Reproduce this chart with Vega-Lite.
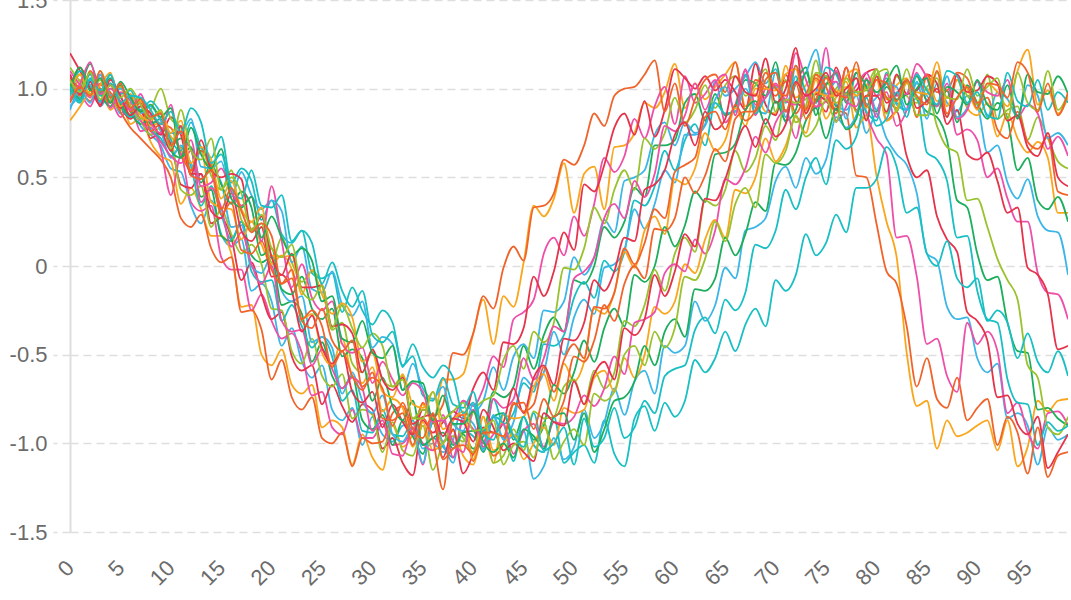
{
"$schema":"https://vega.github.io/schema/vega-lite/v6.json",
"width":998,"height":532,
"autosize":{"type":"none"},
"padding":{"left":70,"top":0,"right":3,"bottom":68},
"background":"white",
"config":{"view":{"stroke":null},"font":"Liberation Sans"},
"data":{"values":[
{"X":0,"a":1.02,"b":0.95,"c":1.08,"d":1.2,"e":0.93,"f":0.97,"g":1.0,"h":1.05,"i":0.9,"j":0.82,"k":1.1,"l":0.98,"m":1.03,"n":1.12,"o":0.96,"p":1.06,"q":0.88,"r":1.0,"s":0.94,"t":1.08,"u":0.99,"v":1.05,"w":1.01,"x":0.92},
{"X":1,"a":0.95,"b":1.05,"c":0.98,"d":1.1,"e":1.0,"f":1.08,"g":0.92,"h":1.0,"i":0.97,"j":0.9,"k":1.02,"l":1.12,"m":0.94,"n":1.04,"o":1.1,"p":0.96,"q":0.99,"r":1.08,"s":1.03,"t":0.97,"u":1.12,"v":0.98,"w":0.93,"x":1.01},
{"X":2,"a":1.04,"b":0.97,"c":0.9,"d":1.0,"e":1.14,"f":0.95,"g":1.06,"h":0.93,"i":1.08,"j":0.99,"k":0.95,"l":1.0,"m":1.09,"n":0.97,"o":1.02,"p":1.1,"q":0.92,"r":0.96,"s":1.15,"t":1.04,"u":0.99,"v":1.09,"w":1.05,"x":0.96},
{"X":3,"a":0.9,"b":1.0,"c":1.03,"d":0.93,"e":0.98,"f":1.1,"g":0.96,"h":1.02,"i":0.92,"j":1.06,"k":1.08,"l":0.91,"m":0.97,"n":1.05,"o":0.93,"p":1.0,"q":1.08,"r":1.02,"s":0.97,"t":0.9,"u":1.06,"v":0.94,"w":0.99,"x":1.1},
{"X":4,"a":0.97,"b":0.88,"c":0.95,"d":1.02,"e":0.9,"f":0.96,"g":1.08,"h":0.98,"i":1.0,"j":0.93,"k":0.89,"l":1.03,"m":1.06,"n":0.93,"o":1.03,"p":0.92,"q":0.96,"r":1.09,"s":1.0,"t":1.05,"u":0.92,"v":1.02,"w":1.08,"x":0.95},
{"X":5,"a":0.86,"b":0.93,"c":0.84,"d":0.9,"e":1.02,"f":0.88,"g":0.91,"h":0.87,"i":0.95,"j":1.0,"k":0.98,"l":0.89,"m":0.92,"n":1.01,"o":0.97,"p":1.03,"q":1.0,"r":0.9,"s":0.93,"t":0.96,"u":1.04,"v":0.95,"w":0.92,"x":1.03},
{"X":6,"a":0.92,"b":0.8,"c":0.9,"d":0.83,"e":0.87,"f":0.95,"g":0.84,"h":0.78,"i":0.88,"j":0.91,"k":0.93,"l":0.96,"m":0.85,"n":0.9,"o":0.99,"p":0.87,"q":0.94,"r":0.97,"s":0.88,"t":0.85,"u":0.95,"v":1.0,"w":0.96,"x":0.89},
{"X":7,"a":0.79,"b":0.84,"c":0.76,"d":0.88,"e":0.8,"f":0.82,"g":0.9,"h":0.72,"i":0.83,"j":0.93,"k":0.82,"l":0.87,"m":0.95,"n":0.83,"o":0.88,"p":0.92,"q":0.86,"r":0.85,"s":0.97,"t":0.9,"u":0.87,"v":0.91,"w":0.95,"x":0.94},
{"X":8,"a":0.74,"b":0.7,"c":0.78,"d":0.72,"e":0.83,"f":0.74,"g":0.77,"h":0.66,"i":0.85,"j":0.79,"k":0.76,"l":0.82,"m":0.8,"n":0.88,"o":0.93,"p":0.76,"q":0.9,"r":0.82,"s":0.81,"t":0.86,"u":0.91,"v":0.83,"w":0.88,"x":0.84},
{"X":9,"a":0.68,"b":0.62,"c":0.66,"d":0.75,"e":0.7,"f":0.78,"g":0.72,"h":0.6,"i":0.76,"j":0.81,"k":0.7,"l":0.74,"m":0.83,"n":1.0,"o":0.86,"p":0.8,"q":0.82,"r":0.87,"s":0.75,"t":0.78,"u":0.84,"v":0.88,"w":0.8,"x":0.86},
{"X":10,"a":0.55,"b":0.59,"c":0.4,"d":0.69,"e":0.68,"f":0.72,"g":0.62,"h":0.5,"i":0.61,"j":0.73,"k":0.62,"l":0.84,"m":0.65,"n":0.83,"o":0.71,"p":0.78,"q":0.75,"r":0.75,"s":0.91,"t":0.65,"u":0.89,"v":0.66,"w":0.87,"x":0.68},
{"X":11,"a":0.53,"b":0.35,"c":0.62,"d":0.46,"e":0.72,"f":0.43,"g":0.67,"h":0.27,"i":0.68,"j":0.66,"k":0.58,"l":0.74,"m":0.61,"n":0.78,"o":0.65,"p":0.63,"q":0.75,"r":0.82,"s":0.63,"t":0.79,"u":0.61,"v":0.88,"w":0.75,"x":0.76},
{"X":12,"a":0.34,"b":0.44,"c":0.36,"d":0.44,"e":0.66,"f":0.4,"g":0.56,"h":0.22,"i":0.58,"j":0.53,"k":0.65,"l":0.52,"m":0.67,"n":0.54,"o":0.81,"p":0.54,"q":0.83,"r":0.58,"s":0.71,"t":0.51,"u":0.78,"v":0.65,"w":0.89,"x":0.51},
{"X":13,"a":0.24,"b":0.32,"c":0.31,"d":0.52,"e":0.39,"f":0.45,"g":0.34,"h":0.29,"i":0.49,"j":0.65,"k":0.36,"l":0.52,"m":0.47,"n":0.67,"o":0.67,"p":0.65,"q":0.56,"r":0.67,"s":0.45,"t":0.71,"u":0.63,"v":0.6,"w":0.81,"x":0.49},
{"X":14,"a":0.37,"b":0.17,"c":0.34,"d":0.24,"e":0.43,"f":0.22,"g":0.45,"h":0.1,"i":0.54,"j":0.36,"k":0.44,"l":0.31,"m":0.57,"n":0.51,"o":0.61,"p":0.56,"q":0.55,"r":0.6,"s":0.47,"t":0.54,"u":0.55,"v":0.72,"w":0.58,"x":0.54},
{"X":15,"a":0.18,"b":0.17,"c":0.05,"d":0.27,"e":0.17,"f":0.32,"g":0.29,"h":0.02,"i":0.47,"j":0.33,"k":0.33,"l":0.27,"m":0.46,"n":0.43,"o":0.73,"p":0.29,"q":0.59,"r":0.38,"s":0.55,"t":0.5,"u":0.66,"v":0.43,"w":0.63,"x":0.32},
{"X":16,"a":0.11,"b":0.07,"c":-0.02,"d":0.16,"e":0.14,"f":0.18,"g":0.15,"h":0.05,"i":0.22,"j":0.32,"k":0.11,"l":0.41,"m":0.35,"n":0.54,"o":0.47,"p":0.36,"q":0.39,"r":0.48,"s":0.42,"t":0.52,"u":0.38,"v":0.5,"w":0.44,"x":0.44},
{"X":17,"a":0.15,"b":-0.23,"c":-0.02,"d":-0.08,"e":0.25,"f":0.07,"g":0.25,"h":-0.26,"i":0.23,"j":0.15,"k":0.19,"l":0.2,"m":0.42,"n":0.26,"o":0.55,"p":0.09,"q":0.53,"r":0.32,"s":0.34,"t":0.49,"u":0.33,"v":0.41,"w":0.38,"x":0.31},
{"X":18,"a":-0.14,"b":-0.22,"c":-0.25,"d":0.02,"e":0.06,"f":0.12,"g":-0.03,"h":-0.25,"i":0.0,"j":0.25,"k":0.01,"l":0.14,"m":0.33,"n":0.21,"o":0.48,"p":0.07,"q":0.4,"r":0.25,"s":0.39,"t":0.2,"u":0.39,"v":0.2,"w":0.54,"x":0.19},
{"X":19,"a":-0.1,"b":-0.5,"c":-0.16,"d":-0.16,"e":0.02,"f":0.01,"g":-0.09,"h":-0.36,"i":-0.04,"j":0.12,"k":-0.1,"l":0.22,"m":0.06,"n":0.24,"o":0.26,"p":0.14,"q":0.32,"r":0.33,"s":0.14,"t":0.28,"u":0.16,"v":0.29,"w":0.34,"x":0.24},
{"X":20,"a":-0.2,"b":-0.56,"c":-0.31,"d":-0.3,"e":0.05,"f":-0.24,"g":-0.08,"h":-0.64,"i":0.06,"j":0.01,"k":0.0,"l":-0.06,"m":0.1,"n":0.02,"o":0.37,"p":-0.02,"q":0.37,"r":0.06,"s":0.45,"t":0.05,"u":0.28,"v":0.1,"w":0.33,"x":0.17},
{"X":21,"a":-0.45,"b":-0.47,"c":-0.41,"d":-0.26,"e":-0.22,"f":-0.25,"g":-0.31,"h":-0.53,"i":-0.14,"j":0.06,"k":-0.31,"l":-0.05,"m":-0.13,"n":0.16,"o":0.18,"p":-0.1,"q":0.31,"r":0.05,"s":0.14,"t":-0.05,"u":0.16,"v":0.05,"w":0.4,"x":-0.1},
{"X":22,"a":-0.35,"b":-0.67,"c":-0.38,"d":-0.51,"e":-0.2,"f":-0.48,"g":-0.22,"h":-0.74,"i":-0.2,"j":-0.02,"k":-0.37,"l":-0.14,"m":-0.16,"n":0.02,"o":0.13,"p":-0.02,"q":0.02,"r":0.06,"s":-0.12,"t":0.07,"u":0.06,"v":0.12,"w":0.14,"x":-0.07},
{"X":23,"a":-0.54,"b":-0.72,"c":-0.49,"d":-0.59,"e":-0.27,"f":-0.55,"g":-0.34,"h":-0.81,"i":-0.17,"j":-0.3,"k":-0.36,"l":-0.37,"m":-0.06,"n":-0.09,"o":0.2,"p":-0.3,"q":0.11,"r":-0.16,"s":0.01,"t":-0.12,"u":0.1,"v":-0.14,"w":0.2,"x":-0.31},
{"X":24,"a":-0.63,"b":-0.67,"c":-0.73,"d":-0.56,"e":-0.54,"f":-0.41,"g":-0.46,"h":-0.74,"i":-0.43,"j":-0.27,"k":-0.56,"l":-0.28,"m":-0.24,"n":-0.03,"o":-0.04,"p":-0.25,"q":-0.13,"r":-0.02,"s":-0.18,"t":-0.12,"u":0.03,"v":-0.19,"w":0.13,"x":-0.35},
{"X":25,"a":-0.56,"b":-0.91,"c":-0.71,"d":-0.78,"e":-0.43,"f":-0.62,"g":-0.4,"h":-0.97,"i":-0.4,"j":-0.49,"k":-0.47,"l":-0.46,"m":-0.3,"n":-0.11,"o":-0.07,"p":-0.34,"q":-0.15,"r":-0.16,"s":-0.25,"t":-0.11,"u":-0.2,"v":-0.11,"w":-0.1,"x":-0.24},
{"X":26,"a":-0.81,"b":-0.87,"c":-0.91,"d":-0.67,"e":-0.62,"f":-0.68,"g":-0.51,"h":-1.0,"i":-0.46,"j":-0.56,"k":-0.58,"l":-0.55,"m":-0.24,"n":-0.36,"o":-0.04,"p":-0.57,"q":-0.03,"r":-0.27,"s":-0.2,"t":-0.34,"u":-0.17,"v":-0.35,"w":0.02,"x":-0.42},
{"X":27,"a":-0.87,"b":-0.91,"c":-0.95,"d":-0.79,"e":-0.69,"f":-0.61,"g":-0.76,"h":-0.94,"i":-0.72,"j":-0.41,"k":-0.69,"l":-0.48,"m":-0.51,"n":-0.32,"o":-0.26,"p":-0.48,"q":-0.22,"r":-0.21,"s":-0.44,"t":-0.33,"u":-0.41,"v":-0.22,"w":-0.14,"x":-0.48},
{"X":28,"a":-0.8,"b":-1.12,"c":-0.81,"d":-0.88,"e":-0.62,"f":-0.86,"g":-0.7,"h":-1.13,"i":-0.6,"j":-0.62,"k":-0.63,"l":-0.71,"m":-0.47,"n":-0.55,"o":-0.12,"p":-0.62,"q":-0.28,"r":-0.29,"s":-0.49,"t":-0.38,"u":-0.43,"v":-0.35,"w":-0.23,"x":-0.42},
{"X":29,"a":-1.01,"b":-0.95,"c":-0.97,"d":-0.78,"e":-0.87,"f":-0.81,"g":-0.93,"h":-0.97,"i":-0.76,"j":-0.66,"k":-0.69,"l":-0.77,"m":-0.52,"n":-0.6,"o":-0.25,"p":-0.7,"q":-0.2,"r":-0.54,"s":-0.46,"t":-0.6,"u":-0.31,"v":-0.46,"w":-0.14,"x":-0.68},
{"X":30,"a":-0.85,"b":-1.08,"c":-0.97,"d":-0.81,"e":-0.92,"f":-0.84,"g":-0.94,"h":-1.0,"i":-0.83,"j":-0.57,"k":-0.93,"l":-0.71,"m":-0.76,"n":-0.48,"o":-0.33,"p":-0.6,"q":-0.46,"r":-0.49,"s":-0.66,"t":-0.47,"u":-0.49,"v":-0.38,"w":-0.39,"x":-0.63},
{"X":31,"a":-0.95,"b":-1.15,"c":-0.89,"d":-1.03,"e":-0.84,"f":-1.05,"g":-0.81,"h":-0.99,"i":-0.73,"j":-0.82,"k":-0.87,"l":-0.91,"m":-0.63,"n":-0.64,"o":-0.25,"p":-0.86,"q":-0.4,"r":-0.71,"s":-0.54,"t":-0.64,"u":-0.52,"v":-0.45,"w":-0.43,"x":-0.69},
{"X":32,"a":-0.99,"b":-0.9,"c":-1.01,"d":-0.97,"e":-1.01,"f":-0.88,"g":-0.95,"h":-0.83,"i":-0.95,"j":-0.75,"k":-1.06,"l":-0.78,"m":-0.79,"n":-0.68,"o":-0.32,"p":-0.87,"q":-0.44,"r":-0.74,"s":-0.64,"t":-0.7,"u":-0.45,"v":-0.68,"w":-0.37,"x":-0.9},
{"X":33,"a":-0.9,"b":-1.02,"c":-1.0,"d":-1.11,"e":-0.87,"f":-1.04,"g":-0.96,"h":-0.79,"i":-0.99,"j":-0.8,"k":-1.07,"l":-0.88,"m":-0.87,"n":-0.62,"o":-0.56,"p":-0.83,"q":-0.7,"r":-0.61,"s":-0.73,"t":-0.63,"u":-0.7,"v":-0.64,"w":-0.57,"x":-0.77},
{"X":34,"a":-0.89,"b":-0.95,"c":-0.94,"d":-1.18,"e":-0.96,"f":-1.07,"g":-0.87,"h":-0.94,"i":-0.91,"j":-1.02,"k":-0.91,"l":-0.95,"m":-0.76,"n":-0.86,"o":-0.51,"p":-1.01,"q":-0.55,"r":-0.78,"s":-0.66,"t":-0.89,"u":-0.65,"v":-0.86,"w":-0.44,"x":-0.92},
{"X":35,"a":-1.03,"b":-0.78,"c":-1.12,"d":-0.87,"e":-1.06,"f":-0.9,"g":-1.01,"h":-0.77,"i":-1.11,"j":-0.88,"k":-1.0,"l":-0.81,"m":-1.01,"n":-0.81,"o":-0.73,"p":-0.86,"q":-0.69,"r":-0.8,"s":-0.71,"t":-0.85,"u":-0.66,"v":-0.86,"w":-0.57,"x":-0.97},
{"X":36,"a":-1.0,"b":-0.89,"c":-0.83,"d":-0.94,"e":-0.88,"f":-1.15,"g":-0.97,"h":-0.85,"i":-0.87,"j":-1.04,"k":-1.04,"l":-0.86,"m":-0.97,"n":-0.86,"o":-0.76,"p":-0.98,"q":-0.75,"r":-0.71,"s":-0.88,"t":-0.84,"u":-0.87,"v":-0.71,"w":-0.63,"x":-0.83},
{"X":37,"a":-1.05,"b":-0.64,"c":-0.99,"d":-0.88,"e":-0.87,"f":-1.0,"g":-1.02,"h":-0.78,"i":-1.0,"j":-1.0,"k":-0.84,"l":-1.08,"m":-0.94,"n":-1.0,"o":-0.63,"p":-1.26,"q":-0.68,"r":-0.92,"s":-0.87,"t":-0.96,"u":-0.73,"v":-0.86,"w":-0.56,"x":-1.09},
{"X":38,"a":-0.98,"b":-0.64,"c":-0.87,"d":-0.82,"e":-1.01,"f":-0.96,"g":-1.08,"h":-0.49,"i":-1.11,"j":-0.93,"k":-1.08,"l":-0.92,"m":-1.03,"n":-0.89,"o":-0.78,"p":-0.86,"q":-0.89,"r":-0.87,"s":-0.99,"t":-0.86,"u":-0.89,"v":-0.82,"w":-0.63,"x":-1.03},
{"X":39,"a":-0.76,"b":-0.61,"c":-0.76,"d":-0.86,"e":-0.95,"f":-0.99,"g":-0.93,"h":-0.5,"i":-0.85,"j":-1.07,"k":-0.87,"l":-1.17,"m":-0.94,"n":-0.97,"o":-0.8,"p":-0.84,"q":-0.93,"r":-0.82,"s":-1.05,"t":-0.88,"u":-0.89,"v":-0.77,"w":-0.83,"x":-1.01},
{"X":40,"a":-0.82,"b":-0.38,"c":-0.79,"d":-0.69,"e":-1.03,"f":-0.82,"g":-0.96,"h":-0.38,"i":-0.89,"j":-1.12,"k":-0.92,"l":-1.06,"m":-0.93,"n":-1.05,"o":-0.71,"p":-1.1,"q":-0.78,"r":-1.09,"s":-0.81,"t":-0.99,"u":-0.82,"v":-0.93,"w":-0.77,"x":-1.06},
{"X":41,"a":-0.76,"b":-0.19,"c":-0.69,"d":-0.6,"e":-0.96,"f":-0.76,"g":-1.03,"h":-0.17,"i":-1.0,"j":-0.93,"k":-1.0,"l":-0.91,"m":-1.05,"n":-0.85,"o":-0.94,"p":-0.93,"q":-1.04,"r":-0.85,"s":-1.02,"t":-0.81,"u":-0.99,"v":-0.92,"w":-0.95,"x":-0.94},
{"X":42,"a":-0.57,"b":-0.44,"c":-0.51,"d":-0.7,"e":-0.71,"f":-0.73,"g":-0.75,"h":-0.24,"i":-0.85,"j":-1.11,"k":-0.75,"l":-0.94,"m":-0.85,"n":-1.11,"o":-0.85,"p":-1.07,"q":-0.84,"r":-1.04,"s":-0.95,"t":-0.91,"u":-1.05,"v":-0.87,"w":-0.98,"x":-0.94},
{"X":43,"a":-0.7,"b":-0.17,"c":-0.57,"d":-0.43,"e":-0.74,"f":-0.53,"g":-0.89,"h":-0.01,"i":-0.97,"j":-0.84,"k":-0.8,"l":-0.88,"m":-0.83,"n":-1.07,"o":-0.89,"p":-1.0,"q":-0.98,"r":-1.0,"s":-0.89,"t":-1.04,"u":-1.0,"v":-1.12,"w":-0.83,"x":-0.96},
{"X":44,"a":-0.51,"b":-0.23,"c":-0.3,"d":-0.44,"e":-0.68,"f":-0.45,"g":-0.83,"h":0.11,"i":-0.88,"j":-0.86,"k":-0.75,"l":-0.69,"m":-0.98,"n":-0.92,"o":-1.1,"p":-0.77,"q":-0.96,"r":-0.95,"s":-1.06,"t":-1.0,"u":-1.08,"v":-1.01,"w":-0.96,"x":-0.78},
{"X":45,"a":-0.44,"b":0.02,"c":-0.26,"d":-0.35,"e":-0.45,"f":-0.58,"g":-0.66,"h":0.03,"i":-0.63,"j":-0.85,"k":-0.52,"l":-0.83,"m":-0.85,"n":-1.04,"o":-0.85,"p":-0.82,"q":-0.93,"r":-1.09,"s":-0.93,"t":-1.05,"u":-0.92,"v":-0.99,"w":-1.02,"x":-0.77},
{"X":46,"a":-0.52,"b":0.34,"c":-0.19,"d":-0.06,"e":-0.58,"f":-0.37,"g":-0.71,"h":0.33,"i":-0.68,"j":-0.68,"k":-0.64,"l":-0.63,"m":-0.98,"n":-0.82,"o":-1.01,"p":-0.78,"q":-1.2,"r":-1.0,"s":-0.89,"t":-1.1,"u":-0.96,"v":-1.08,"w":-0.83,"x":-0.92},
{"X":47,"a":-0.25,"b":0.28,"c":0.07,"d":-0.17,"e":-0.39,"f":-0.43,"g":-0.44,"h":0.34,"i":-0.6,"j":-0.61,"k":-0.52,"l":-0.56,"m":-0.9,"n":-0.86,"o":-1.05,"p":-0.57,"q":-1.13,"r":-0.91,"s":-1.02,"t":-0.83,"u":-1.03,"v":-0.88,"w":-1.04,"x":-0.75},
{"X":48,"a":-0.26,"b":0.38,"c":0.16,"d":-0.03,"e":-0.29,"f":-0.32,"g":-0.45,"h":0.41,"i":-0.37,"j":-0.76,"k":-0.34,"l":-0.67,"m":-0.67,"n":-0.85,"o":-0.85,"p":-0.71,"q":-0.97,"r":-1.01,"s":-0.88,"t":-0.88,"u":-0.85,"v":-1.09,"w":-1.0,"x":-0.85},
{"X":49,"a":-0.2,"b":0.58,"c":0.06,"d":0.19,"e":-0.37,"f":-0.01,"g":-0.39,"h":0.6,"i":-0.5,"j":-0.55,"k":-0.37,"l":-0.41,"m":-0.72,"n":-0.68,"o":-1.11,"p":-0.53,"q":-1.09,"r":-0.8,"s":-0.89,"t":-0.9,"u":-0.83,"v":-0.99,"w":-0.91,"x":-0.76},
{"X":50,"a":0.05,"b":0.3,"c":0.28,"d":0.09,"e":-0.08,"f":-0.02,"g":-0.18,"h":0.57,"i":-0.29,"j":-0.65,"k":-0.07,"l":-0.42,"m":-0.6,"n":-0.64,"o":-1.05,"p":-0.44,"q":-1.02,"r":-0.83,"s":-0.85,"t":-0.65,"u":-0.98,"v":-0.92,"w":-1.12,"x":-0.51},
{"X":51,"a":-0.05,"b":0.52,"c":0.17,"d":0.46,"e":-0.1,"f":0.1,"g":-0.09,"h":0.68,"i":-0.19,"j":-0.54,"k":-0.03,"l":-0.32,"m":-0.42,"n":-0.78,"o":-1.01,"p":-0.52,"q":-0.81,"r":-0.81,"s":-0.73,"t":-0.78,"u":-0.83,"v":-1.01,"w":-0.86,"x":-0.54},
{"X":52,"a":0.05,"b":0.56,"c":0.35,"d":0.42,"e":0.0,"f":0.33,"g":-0.18,"h":0.86,"i":-0.27,"j":-0.24,"k":0.05,"l":-0.08,"m":-0.54,"n":-0.59,"o":-1.11,"p":-0.23,"q":-0.97,"r":-0.63,"s":-0.79,"t":-0.61,"u":-1.05,"v":-0.72,"w":-1.02,"x":-0.42},
{"X":53,"a":0.26,"b":0.32,"c":0.61,"d":0.57,"e":0.22,"f":0.24,"g":0.03,"h":0.79,"i":-0.01,"j":-0.27,"k":0.27,"l":-0.14,"m":-0.35,"n":-0.69,"o":-0.87,"p":-0.24,"q":-0.88,"r":-0.59,"s":-0.69,"t":-0.54,"u":-0.92,"v":-0.76,"w":-0.97,"x":-0.22},
{"X":54,"a":0.19,"b":0.67,"c":0.53,"d":0.78,"e":0.16,"f":0.43,"g":-0.03,"h":0.96,"i":0.01,"j":-0.15,"k":0.35,"l":-0.03,"m":-0.24,"n":-0.6,"o":-1.06,"p":-0.15,"q":-0.69,"r":-0.71,"s":-0.51,"t":-0.64,"u":-0.76,"v":-0.71,"w":-0.8,"x":-0.31},
{"X":55,"a":0.48,"b":0.68,"c":0.62,"d":0.86,"e":0.25,"f":0.54,"g":0.08,"h":1.0,"i":0.09,"j":0.08,"k":0.27,"l":0.16,"m":-0.34,"n":-0.31,"o":-1.13,"p":0.1,"q":-0.84,"r":-0.52,"s":-0.61,"t":-0.35,"u":-0.74,"v":-0.5,"w":-0.97,"x":-0.1},
{"X":56,"a":0.5,"b":0.75,"c":0.83,"d":0.74,"e":0.44,"f":0.43,"g":0.37,"h":1.01,"i":0.32,"j":-0.01,"k":0.48,"l":0.14,"m":-0.05,"n":-0.34,"o":-0.86,"p":0.01,"q":-0.65,"r":-0.63,"s":-0.32,"t":-0.39,"u":-0.65,"v":-0.45,"w":-0.91,"x":0.0},
{"X":57,"a":0.54,"b":0.92,"c":0.72,"d":0.93,"e":0.39,"f":0.72,"g":0.34,"h":1.08,"i":0.21,"j":0.2,"k":0.39,"l":0.43,"m":-0.09,"n":-0.22,"o":-0.79,"p":0.13,"q":-0.59,"r":-0.5,"s":-0.3,"t":-0.3,"u":-0.45,"v":-0.56,"w":-0.76,"x":-0.07},
{"X":58,"a":0.74,"b":0.89,"c":0.9,"d":0.73,"e":0.68,"f":0.66,"g":0.45,"h":1.16,"i":0.35,"j":0.28,"k":0.52,"l":0.46,"m":0.0,"n":-0.02,"o":-0.93,"p":0.32,"q":-0.72,"r":-0.23,"s":-0.26,"t":-0.05,"u":-0.56,"v":-0.37,"w":-0.83,"x":0.21},
{"X":59,"a":0.81,"b":0.98,"c":1.01,"d":0.88,"e":0.68,"f":0.75,"g":0.65,"h":0.87,"i":0.54,"j":0.18,"k":0.79,"l":0.54,"m":0.22,"n":-0.14,"o":-0.77,"p":0.27,"q":-0.45,"r":-0.27,"s":-0.04,"t":-0.17,"u":-0.37,"v":-0.46,"w":-0.62,"x":0.2},
{"X":60,"a":0.68,"b":1.14,"c":0.8,"d":1.11,"e":0.71,"f":0.95,"g":0.54,"h":1.03,"i":0.47,"j":0.49,"k":0.76,"l":0.74,"m":0.11,"n":0.07,"o":-0.85,"p":0.53,"q":-0.49,"r":-0.2,"s":0.01,"t":-0.03,"u":-0.3,"v":-0.35,"w":-0.58,"x":0.27},
{"X":61,"a":0.81,"b":0.89,"c":1.07,"d":1.06,"e":0.92,"f":0.81,"g":0.71,"h":0.79,"i":0.74,"j":0.46,"k":0.85,"l":0.81,"m":0.23,"n":0.16,"o":-0.76,"p":0.57,"q":-0.45,"r":0.01,"s":-0.03,"t":0.18,"u":-0.4,"v":-0.06,"w":-0.56,"x":0.5},
{"X":62,"a":0.75,"b":1.03,"c":0.92,"d":1.0,"e":0.97,"f":0.88,"g":0.8,"h":0.94,"i":0.74,"j":0.55,"k":1.03,"l":0.68,"m":0.42,"n":0.08,"o":-0.53,"p":0.61,"q":-0.2,"r":-0.04,"s":0.15,"t":0.11,"u":-0.13,"v":-0.08,"w":-0.36,"x":0.41},
{"X":63,"a":0.8,"b":0.94,"c":0.97,"d":1.07,"e":0.82,"f":1.02,"g":0.68,"h":1.05,"i":0.79,"j":0.75,"k":0.88,"l":0.87,"m":0.36,"n":0.37,"o":-0.6,"p":0.84,"q":-0.31,"r":0.15,"s":0.07,"t":0.38,"u":-0.14,"v":0.04,"w":-0.29,"x":0.51},
{"X":64,"a":1.04,"b":1.01,"c":1.05,"d":0.99,"e":0.97,"f":0.89,"g":0.92,"h":1.08,"i":0.94,"j":0.65,"k":1.03,"l":0.77,"m":0.63,"n":0.34,"o":-0.52,"p":0.87,"q":-0.22,"r":0.26,"s":0.2,"t":0.37,"u":-0.07,"v":0.25,"w":-0.38,"x":0.66},
{"X":65,"a":0.96,"b":1.08,"c":0.81,"d":1.05,"e":0.85,"f":1.02,"g":0.86,"h":0.98,"i":1.01,"j":0.71,"k":1.08,"l":0.83,"m":0.64,"n":0.43,"o":-0.37,"p":0.77,"q":-0.01,"r":0.16,"s":0.49,"t":0.49,"u":0.16,"v":0.14,"w":-0.19,"x":0.59},
{"X":66,"a":1.0,"b":1.15,"c":0.91,"d":0.98,"e":0.9,"f":1.07,"g":0.87,"h":1.15,"i":0.87,"j":0.89,"k":0.85,"l":1.07,"m":0.69,"n":0.65,"o":-0.48,"p":0.91,"q":-0.07,"r":0.43,"s":0.46,"t":0.67,"u":0.06,"v":0.35,"w":-0.25,"x":0.83},
{"X":67,"a":1.07,"b":0.9,"c":1.1,"d":0.88,"e":1.05,"f":0.96,"g":1.08,"h":0.88,"i":1.0,"j":0.79,"k":1.11,"l":0.98,"m":0.88,"n":0.53,"o":-0.33,"p":0.82,"q":0.2,"r":0.41,"s":0.55,"t":0.79,"u":0.18,"v":0.44,"w":-0.15,"x":0.87},
{"X":68,"a":1.15,"b":0.97,"c":0.85,"d":1.14,"e":1.03,"f":1.02,"g":0.86,"h":1.05,"i":0.89,"j":1.0,"k":0.91,"l":0.96,"m":0.93,"n":0.61,"o":-0.24,"p":0.88,"q":0.22,"r":0.5,"s":0.73,"t":0.67,"u":0.36,"v":0.33,"w":0.12,"x":0.87},
{"X":69,"a":1.03,"b":0.87,"c":1.0,"d":0.91,"e":0.96,"f":1.11,"g":0.95,"h":1.01,"i":0.86,"j":1.0,"k":0.95,"l":1.17,"m":0.8,"n":0.79,"o":-0.34,"p":1.09,"q":0.27,"r":0.72,"s":0.64,"t":0.83,"u":0.31,"v":0.63,"w":0.1,"x":1.05},
{"X":70,"a":1.11,"b":0.86,"c":1.02,"d":0.85,"e":1.15,"f":0.87,"g":1.01,"h":0.96,"i":1.09,"j":0.99,"k":1.03,"l":0.92,"m":0.93,"n":0.71,"o":-0.08,"p":1.0,"q":0.48,"r":0.59,"s":0.81,"t":0.73,"u":0.58,"v":0.58,"w":0.2,"x":1.09},
{"X":71,"a":0.84,"b":1.13,"c":0.94,"d":1.08,"e":0.87,"f":1.05,"g":0.81,"h":1.04,"i":0.92,"j":1.08,"k":0.93,"l":1.0,"m":0.82,"n":0.94,"o":-0.14,"p":0.96,"q":0.56,"r":0.68,"s":0.88,"t":0.8,"u":0.57,"v":0.65,"w":0.43,"x":0.87},
{"X":72,"a":1.07,"b":0.95,"c":1.2,"d":0.93,"e":1.03,"f":0.81,"g":1.13,"h":0.86,"i":1.03,"j":1.11,"k":0.91,"l":1.23,"m":0.88,"n":0.92,"o":-0.05,"p":1.13,"q":0.44,"r":0.84,"s":0.72,"t":1.04,"u":0.64,"v":0.85,"w":0.32,"x":1.03},
{"X":73,"a":0.89,"b":1.02,"c":1.05,"d":0.89,"e":1.12,"f":0.9,"g":0.98,"h":0.97,"i":1.09,"j":0.86,"k":0.96,"l":0.86,"m":1.09,"n":0.94,"o":0.18,"p":0.88,"q":0.61,"r":0.75,"s":0.97,"t":0.96,"u":0.82,"v":0.73,"w":0.5,"x":0.83},
{"X":74,"a":0.98,"b":1.08,"c":0.92,"d":0.94,"e":0.85,"f":1.16,"g":0.92,"h":1.06,"i":1.22,"j":1.05,"k":0.89,"l":0.97,"m":0.93,"n":1.09,"o":0.06,"p":1.08,"q":0.52,"r":0.98,"s":0.9,"t":1.0,"u":0.89,"v":0.79,"w":0.61,"x":0.94},
{"X":75,"a":1.07,"b":0.94,"c":1.23,"d":0.87,"e":1.07,"f":0.93,"g":1.12,"h":0.96,"i":0.97,"j":0.83,"k":1.03,"l":0.93,"m":1.02,"n":1.07,"o":0.13,"p":1.01,"q":0.6,"r":0.96,"s":0.93,"t":1.09,"u":0.72,"v":0.94,"w":0.46,"x":1.06},
{"X":76,"a":0.91,"b":0.98,"c":0.82,"d":1.12,"e":0.9,"f":1.0,"g":1.08,"h":0.88,"i":1.04,"j":0.95,"k":1.04,"l":0.88,"m":1.09,"n":0.92,"o":0.29,"p":0.86,"q":0.84,"r":0.96,"s":1.1,"t":0.96,"u":0.89,"v":0.81,"w":0.71,"x":0.98},
{"X":77,"a":0.88,"b":1.04,"c":0.9,"d":0.97,"e":0.97,"f":1.06,"g":0.96,"h":0.86,"i":0.83,"j":1.01,"k":0.95,"l":1.12,"m":0.92,"n":0.97,"o":0.19,"p":1.12,"q":0.78,"r":1.07,"s":0.93,"t":1.0,"u":0.77,"v":1.06,"w":0.66,"x":0.95},
{"X":78,"a":0.96,"b":0.78,"c":1.09,"d":0.99,"e":1.06,"f":0.96,"g":0.98,"h":0.51,"i":1.09,"j":0.96,"k":1.02,"l":0.87,"m":1.09,"n":0.87,"o":0.44,"p":0.88,"q":0.85,"r":1.11,"s":0.9,"t":1.06,"u":0.83,"v":0.98,"w":0.73,"x":1.15},
{"X":79,"a":0.75,"b":0.85,"c":0.86,"d":1.09,"e":0.91,"f":1.01,"g":0.87,"h":0.5,"i":0.91,"j":1.02,"k":1.09,"l":0.96,"m":1.01,"n":0.83,"o":0.44,"p":0.95,"q":1.05,"r":0.89,"s":1.06,"t":0.82,"u":1.05,"v":0.99,"w":0.95,"x":0.9},
{"X":80,"a":0.86,"b":0.51,"c":0.72,"d":1.11,"e":0.87,"f":1.11,"g":0.82,"h":0.24,"i":0.95,"j":1.07,"k":0.96,"l":0.96,"m":0.88,"n":1.11,"o":0.49,"p":1.05,"q":0.88,"r":1.05,"s":0.84,"t":1.07,"u":0.98,"v":1.08,"w":0.79,"x":1.05},
{"X":81,"a":0.72,"b":0.25,"c":0.63,"d":0.82,"e":1.04,"f":0.86,"g":1.09,"h":-0.03,"i":1.06,"j":0.94,"k":0.98,"l":0.87,"m":1.01,"n":0.95,"o":0.67,"p":0.95,"q":1.03,"r":0.82,"s":1.08,"t":0.92,"u":1.04,"v":1.11,"w":0.83,"x":1.03},
{"X":82,"a":0.63,"b":0.05,"c":0.16,"d":0.87,"e":0.87,"f":1.07,"g":0.92,"h":-0.1,"i":0.91,"j":1.02,"k":0.79,"l":1.08,"m":0.94,"n":0.93,"o":0.56,"p":0.89,"q":1.01,"r":0.88,"s":0.96,"t":0.97,"u":1.13,"v":0.87,"w":0.98,"x":0.93},
{"X":83,"a":0.57,"b":-0.49,"c":0.17,"d":0.62,"e":1.04,"f":0.96,"g":0.88,"h":-0.34,"i":0.88,"j":1.06,"k":0.88,"l":0.97,"m":0.97,"n":1.11,"o":0.3,"p":1.04,"q":0.88,"r":1.03,"s":0.97,"t":1.05,"u":0.91,"v":1.05,"w":0.84,"x":1.05},
{"X":84,"a":0.41,"b":-0.79,"c":-0.06,"d":0.5,"e":0.94,"f":0.92,"g":0.95,"h":-0.68,"i":1.04,"j":0.84,"k":1.09,"l":0.99,"m":1.07,"n":0.94,"o":0.33,"p":0.84,"q":1.03,"r":0.98,"s":1.14,"t":0.89,"u":1.0,"v":0.85,"w":1.08,"x":0.96},
{"X":85,"a":0.07,"b":-0.76,"c":-0.44,"d":0.54,"e":0.87,"f":1.0,"g":0.64,"h":-0.52,"i":0.83,"j":1.07,"k":0.93,"l":1.08,"m":0.93,"n":1.01,"o":0.07,"p":1.08,"q":0.96,"r":0.97,"s":1.06,"t":0.93,"u":1.06,"v":0.85,"w":0.99,"x":0.91},
{"X":86,"a":0.03,"b":-1.03,"c":-0.41,"d":0.28,"e":0.84,"f":0.79,"g":0.6,"h":-0.75,"i":1.03,"j":0.93,"k":0.9,"l":1.03,"m":0.91,"n":1.06,"o":0.0,"p":0.98,"q":0.9,"r":1.15,"s":0.9,"t":1.0,"u":0.86,"v":1.09,"w":0.91,"x":1.1},
{"X":87,"a":-0.23,"b":-0.87,"c":-0.62,"d":0.15,"e":0.71,"f":0.67,"g":0.48,"h":-0.8,"i":0.92,"j":0.95,"k":0.99,"l":0.8,"m":0.99,"n":0.84,"o":0.14,"p":0.99,"q":1.07,"r":0.9,"s":1.03,"t":0.84,"u":1.01,"v":0.95,"w":1.1,"x":0.86},
{"X":88,"a":-0.3,"b":-0.96,"c":-0.71,"d":0.08,"e":0.37,"f":0.64,"g":0.16,"h":-0.63,"i":0.87,"j":1.05,"k":0.74,"l":0.88,"m":0.81,"n":1.05,"o":-0.07,"p":1.09,"q":0.84,"r":1.05,"s":0.83,"t":1.08,"u":0.98,"v":0.94,"w":1.07,"x":0.95},
{"X":89,"a":-0.29,"b":-0.94,"c":-0.32,"d":-0.26,"e":0.33,"f":0.37,"g":0.17,"h":-0.87,"i":0.96,"j":0.89,"k":0.77,"l":0.63,"m":1.02,"n":0.96,"o":-0.12,"p":1.06,"q":0.89,"r":1.0,"s":0.88,"t":0.98,"u":0.91,"v":1.11,"w":0.92,"x":1.01},
{"X":90,"a":-0.52,"b":-0.9,"c":-0.44,"d":-0.31,"e":0.07,"f":0.38,"g":-0.14,"h":-0.8,"i":0.91,"j":0.85,"k":0.71,"l":0.6,"m":0.92,"n":0.91,"o":-0.07,"p":0.92,"q":1.04,"r":0.88,"s":1.04,"t":0.99,"u":1.05,"v":0.96,"w":0.98,"x":0.89},
{"X":91,"a":-0.6,"b":-0.87,"c":-0.37,"d":-0.42,"e":-0.08,"f":0.22,"g":-0.3,"h":-0.75,"i":0.64,"j":0.92,"k":0.5,"l":0.64,"m":0.83,"n":1.08,"o":-0.31,"p":0.95,"q":0.84,"r":1.03,"s":0.98,"t":1.07,"u":0.91,"v":1.01,"w":0.85,"x":1.03},
{"X":92,"a":-0.55,"b":-1.04,"c":-0.48,"d":-0.74,"e":-0.06,"f":0.04,"g":-0.32,"h":-1.01,"i":0.68,"j":0.73,"k":0.55,"l":0.48,"m":0.92,"n":0.83,"o":-0.25,"p":0.77,"q":0.98,"r":0.98,"s":0.96,"t":1.03,"u":0.88,"v":1.06,"w":0.83,"x":1.02},
{"X":93,"a":-0.86,"b":-0.87,"c":-0.83,"d":-0.73,"e":-0.32,"f":-0.08,"g":-0.64,"h":-0.85,"i":0.47,"j":0.86,"k":0.38,"l":0.3,"m":0.83,"n":0.88,"o":-0.32,"p":0.72,"q":0.94,"r":0.9,"s":1.05,"t":0.82,"u":1.02,"v":0.83,"w":1.09,"x":0.95},
{"X":94,"a":-0.83,"b":-1.13,"c":-0.77,"d":-0.89,"e":-0.48,"f":-0.19,"g":-0.77,"h":-0.94,"i":0.38,"j":0.72,"k":0.25,"l":0.33,"m":0.54,"n":0.9,"o":-0.52,"p":0.87,"q":0.84,"r":1.1,"s":0.84,"t":0.85,"u":0.83,"v":1.09,"w":0.93,"x":1.15},
{"X":95,"a":-0.9,"b":-1.02,"c":-0.94,"d":-0.95,"e":-0.49,"f":-0.56,"g":-0.78,"h":-1.17,"i":0.49,"j":0.64,"k":0.25,"l":-0.01,"m":0.61,"n":0.71,"o":-0.38,"p":0.7,"q":1.02,"r":1.22,"s":0.91,"t":0.67,"u":1.08,"v":0.92,"w":0.9,"x":1.09},
{"X":96,"a":-1.12,"b":-0.76,"c":-1.03,"d":-0.85,"e":-0.81,"f":-0.63,"g":-1.01,"h":-0.91,"i":0.28,"j":0.7,"k":-0.04,"l":-0.05,"m":0.37,"n":0.84,"o":-0.54,"p":0.66,"q":0.96,"r":0.91,"s":0.86,"t":0.62,"u":0.98,"v":0.88,"w":1.05,"x":0.87},
{"X":97,"a":-0.91,"b":-0.82,"c":-0.83,"d":-1.14,"e":-0.8,"f":-0.91,"g":-0.88,"h":-1.19,"i":0.2,"j":0.61,"k":-0.15,"l":-0.16,"m":0.32,"n":0.72,"o":-0.6,"p":0.73,"q":0.72,"r":0.99,"s":0.66,"t":0.75,"u":0.97,"v":1.1,"w":0.88,"x":1.03},
{"X":98,"a":-0.98,"b":-0.76,"c":-0.82,"d":-1.05,"e":-0.86,"f":-0.95,"g":-0.93,"h":-1.07,"i":0.19,"j":0.3,"k":-0.16,"l":-0.47,"m":0.39,"n":0.59,"o":-0.48,"p":0.42,"q":0.75,"r":0.86,"s":0.73,"t":0.5,"u":1.07,"v":0.88,"w":0.98,"x":0.85},
{"X":99,"a":-0.95,"b":-0.75,"c":-0.9,"d":-0.95,"e":-0.9,"f":-0.85,"g":-0.9,"h":-1.05,"i":-0.05,"j":0.3,"k":-0.3,"l":-0.45,"m":0.25,"n":0.55,"o":-0.62,"p":0.4,"q":0.68,"r":0.95,"s":0.62,"t":0.45,"u":0.97,"v":0.97,"w":0.92,"x":0.98}
]},
"transform":[{"fold":["a","b","c","d","e","f","g","h","i","j","k","l","m","n","o","p","q","r","s","t","u","v","w","x"],"as":["s","y"]}],
"mark":{"type":"line","interpolate":"monotone","strokeWidth":1.8,"clip":true},
"encoding":{
"x":{"field":"X","type":"quantitative","scale":{"domain":[0,99],"nice":false,"zero":false},
"axis":{"title":null,"values":[0,5,10,15,20,25,30,35,40,45,50,55,60,65,70,75,80,85,90,95],"labelAngle":-45,"labelAlign":"right","labelBaseline":"middle","labelPadding":32,"labelFontSize":22,"labelColor":"#6b6b6b","labelFont":"Liberation Sans","labelFlush":false,"labelOverlap":false,"domain":false,"ticks":false,"grid":false}},
"y":{"field":"y","type":"quantitative","scale":{"domain":[-1.5,1.5],"nice":false,"zero":false},
"axis":{"title":null,"values":[-1.5,-1,-0.5,0,0.5,1,1.5],"labelExpr":"datum.value == 0 ? '0' : (datum.value < 0 ? '-' : '') + format(abs(datum.value), '.1f')","labelFontSize":22,"labelColor":"#6b6b6b","labelFont":"Liberation Sans","labelPadding":6,"labelFlush":false,"labelOverlap":false,"domain":true,"domainColor":"#dedede","domainWidth":2,"ticks":true,"tickSize":17,"tickColor":"#dedede","tickWidth":1.5,"tickDash":[8,5],"grid":true,"gridColor":"#dedede","gridWidth":1.5,"gridDash":[8,5]}},
"color":{"field":"s","type":"nominal","legend":null,"scale":{"range":["#3bb6e6","#f9a61c","#ee4fa8","#e5334b","#1cae5c","#99c22e","#19bfc3","#f0642b"]}}
}
}
